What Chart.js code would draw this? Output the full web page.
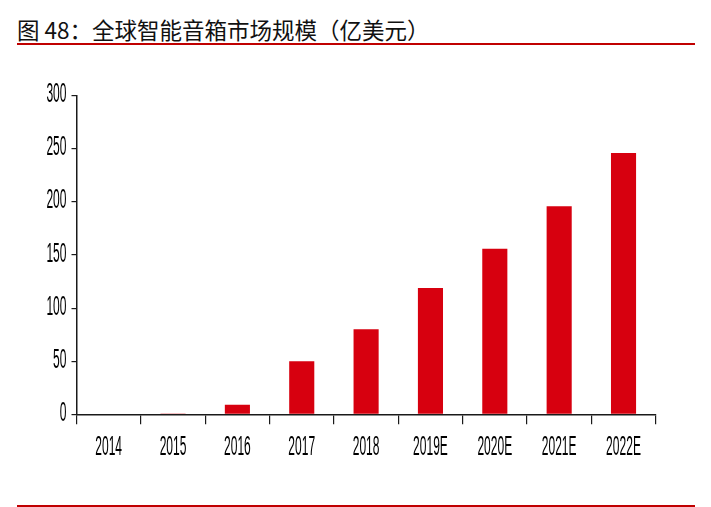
<!DOCTYPE html>
<html>
<head>
<meta charset="utf-8">
<script src="https://cdn.jsdelivr.net/npm/chart.js@4"></script>
<style>
  html, body { margin: 0; padding: 0; background: #fff; }
  body { width: 711px; height: 507px; position: relative; overflow: hidden; }
  #title { position: absolute; left: 17px; top: 15px; font: 22.5px "Noto Sans CJK SC", sans-serif; color: #111; line-height: 28px; white-space: nowrap; }
  .rule { position: absolute; left: 17px; width: 678px; height: 2px; background: #c00000; }
  #chartBox { position: absolute; left: 0; top: 70px; width: 711px; height: 420px; }
</style>
</head>
<body>
<div id="title">图 48：全球智能音箱市场规模（亿美元）</div>
<div class="rule" style="top:42.5px"></div>
<div id="chartBox"><canvas id="chart"></canvas></div>
<div class="rule" style="top:504.5px"></div>
<script>
const years = ["2014", "2015", "2016", "2017", "2018", "2019E", "2020E", "2021E", "2022E"];
const marketSize = [0, 0.8, 9, 50, 80, 119, 156, 196, 246];
const yTicks = [0, 50, 100, 150, 200, 250, 300];

// tick labels in the source are tall and narrow, so they are drawn stretched
const stretchLabels = {
    id: 'stretchLabels',
    afterDraw(chart) {
        const ctx = chart.ctx;
        const xs = chart.scales.x, ys = chart.scales.y;
        ctx.save();
        ctx.fillStyle = '#000';
        ctx.font = '14px "Liberation Sans", Arial, sans-serif';
        ctx.textBaseline = 'middle';
        ctx.textAlign = 'center';
        xs.ticks.forEach((t, i) => {
            ctx.save();
            ctx.translate(xs.getPixelForTick(i), xs.top + 33);
            ctx.scale(0.86, 1.95);
            ctx.fillText(xs.getLabelForValue(t.value), 0, 0);
            ctx.restore();
        });
        ctx.textAlign = 'right';
        ys.ticks.forEach((t, i) => {
            ctx.save();
            ctx.translate(ys.right - 10, ys.getPixelForTick(i) - 1);
            ctx.scale(0.86, 1.95);
            ctx.fillText(String(t.value), 0, 0);
            ctx.restore();
        });
        ctx.restore();
    }
};

new Chart(document.getElementById('chart'), {
    type: 'bar',
    data: {
        labels: years,
        datasets: [{
            data: marketSize,
            backgroundColor: '#d7000f',
            borderWidth: 0,
            categoryPercentage: 1,
            barPercentage: 0.39
        }]
    },
    options: {
        responsive: true,
        maintainAspectRatio: false,
        animation: false,
        layout: { padding: { top: 25.7, right: 55.3, left: 0, bottom: 0 } },
        plugins: { legend: { display: false }, tooltip: { enabled: false } },
        scales: {
            x: {
                grid: { display: true, offset: true, drawOnChartArea: false, tickLength: 10, color: '#1a1a1a', lineWidth: 1.2 },
                border: { color: '#1a1a1a', width: 1.5 },
                ticks: { color: 'transparent' },
                afterFit: s => { s.height = 75.7; }
            },
            y: {
                min: 0, max: 300,
                afterBuildTicks: s => { s.ticks = yTicks.map(v => ({ value: v })); },
                grid: { drawOnChartArea: false, tickLength: 5, color: '#1a1a1a', lineWidth: 1.2 },
                border: { color: '#1a1a1a', width: 1.5 },
                ticks: { color: 'transparent' },
                afterFit: s => { s.width = 76.5; }
            }
        }
    },
    plugins: [stretchLabels]
});
</script>
</body>
</html>
